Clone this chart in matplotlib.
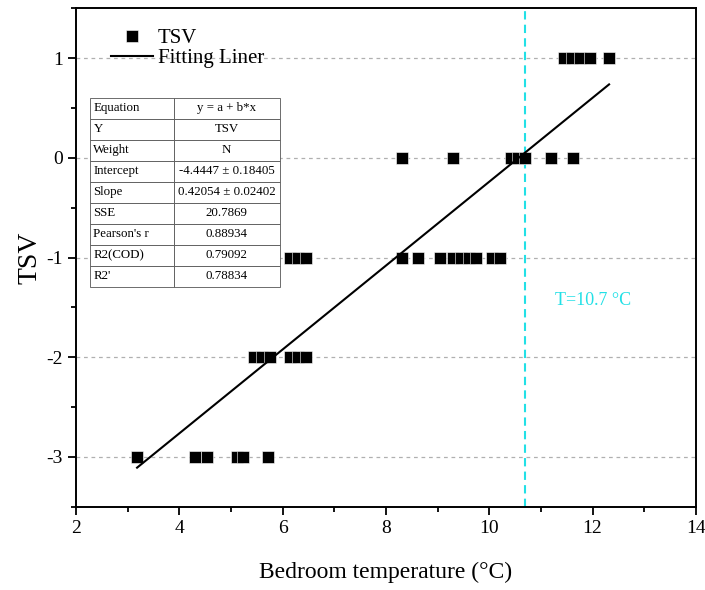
import numpy as np
import matplotlib
matplotlib.use('Agg')
import matplotlib.pyplot as plt
from matplotlib.ticker import MultipleLocator

plt.rcParams['font.family'] = ['Liberation Serif', 'DejaVu Serif']
plt.rcParams['axes.unicode_minus'] = False

# TSV votes vs bedroom temperature
temp_m3 = [3.18, 4.30, 4.54, 5.12, 5.23, 5.72]
temp_m2 = [5.45, 5.60, 5.75, 6.15, 6.30, 6.45]
temp_m1 = [6.15, 6.30, 6.45, 8.31, 8.62, 9.05, 9.30, 9.45, 9.60, 9.75, 10.05, 10.20]
temp_0 = [8.31, 9.30, 10.42, 10.55, 10.70, 11.19, 11.62]
temp_p1 = [11.45, 11.60, 11.75, 11.95, 12.32]

intercept = -4.4447
slope = 0.42054
t_neutral = 10.7

table_rows = [
    ['Equation', 'y = a + b*x'],
    ['Y', 'TSV'],
    ['Weight', 'N'],
    ['Intercept', '-4.4447 ± 0.18405'],
    ['Slope', '0.42054 ± 0.02402'],
    ['SSE', '20.7869'],
    ["Pearson's r", '0.88934'],
    ['R2(COD)', '0.79092'],
    ["R2'", '0.78834'],
]

x = np.array(temp_m3 + temp_m2 + temp_m1 + temp_0 + temp_p1)
y = np.array([-3] * len(temp_m3) + [-2] * len(temp_m2) + [-1] * len(temp_m1)
             + [0] * len(temp_0) + [1] * len(temp_p1))

fig = plt.figure(figsize=(7.05, 5.9), dpi=100)
ax = fig.add_axes([0.108, 0.141, 0.879, 0.845])

ax.plot(x, y, 's', color='black', markersize=8.8, markeredgecolor='white',
        markeredgewidth=0.4, label='TSV', zorder=3)
xf = np.array([x.min(), x.max()])
ax.plot(xf, intercept + slope * xf, '-', color='black', lw=1.5,
        label='Fitting Liner', zorder=4)
ax.axvline(t_neutral, color='#22e0e6', ls=(0, (4, 2.5)), lw=1.5, zorder=2)
ax.text(11.27, -1.43, 'T=10.7 °C', color='#22e0e6', fontsize=13,
        va='center', ha='left')

ax.set_xlim(2, 14)
ax.set_ylim(-3.5, 1.5)
ax.xaxis.set_major_locator(MultipleLocator(2))
ax.xaxis.set_minor_locator(MultipleLocator(1))
ax.yaxis.set_major_locator(MultipleLocator(1))
ax.yaxis.set_minor_locator(MultipleLocator(0.5))
ax.grid(axis='y', which='major', color='#b0b0b0', ls=(0, (3, 3)), lw=0.9)
ax.set_axisbelow(True)
ax.tick_params(which='major', direction='out', length=6, width=1.3, labelsize=14)
ax.tick_params(which='minor', direction='out', length=3.5, width=1.3)
for s in ax.spines.values():
    s.set_linewidth(1.4)

ax.set_xlabel('Bedroom temperature (°C)', fontsize=17, labelpad=18)
ax.set_ylabel('TSV', fontsize=20, labelpad=3)

ax.legend(loc='upper left', bbox_to_anchor=(0.036, 0.985), frameon=False,
          fontsize=15, handlelength=2.0, handletextpad=0.25, labelspacing=0.05,
          borderaxespad=0.2)

tb = ax.table(cellText=table_rows, colWidths=[0.44, 0.56],
              bbox=[0.0226, 0.441, 0.306, 0.379], zorder=5)
tb.auto_set_font_size(False)
tb.set_fontsize(9.3)
for (r, c), cell in tb.get_celld().items():
    cell.set_edgecolor('#555555')
    cell.set_linewidth(0.6)
    cell.set_facecolor('white')
    if c == 0:
        cell.set_text_props(ha='left')
        cell.PAD = 0.04
    else:
        cell.set_text_props(ha='center')

fig.savefig('out.png', dpi=100)
